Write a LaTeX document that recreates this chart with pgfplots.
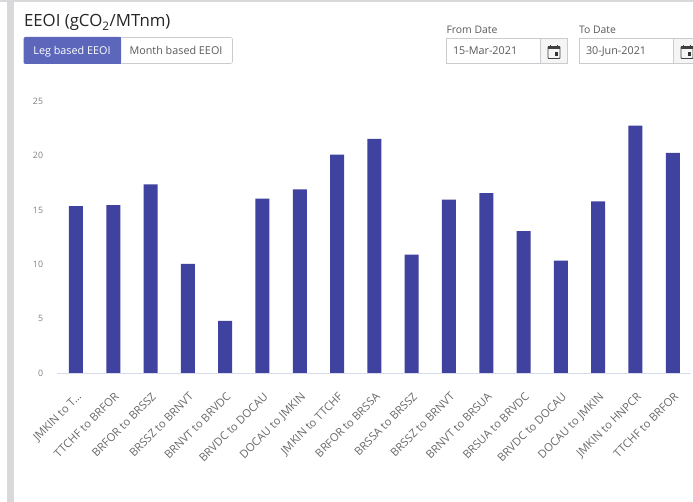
\documentclass[border=0pt]{standalone}
\usepackage{fontspec}
\setmainfont{Open Sans}
\usepackage{pgfplots}
\pgfplotsset{compat=1.18}
\usepackage{pgfplotstable}
\definecolor{barc}{HTML}{3F429E}
\definecolor{btn}{HTML}{5C67BB}
\definecolor{strip}{HTML}{D9D9DB}
\definecolor{axisl}{HTML}{D5DAEC}
\definecolor{tick}{HTML}{808080}
\definecolor{xlab}{HTML}{6A6A6A}
\definecolor{bord}{HTML}{C9CBCF}
\definecolor{txt}{HTML}{5A5A5A}
\pgfplotstableread{
idx val
0 15.35
1 15.45
2 17.35
3 10.05
4 4.8
5 16.05
6 16.9
7 20.1
8 21.55
9 10.9
10 15.95
11 16.55
12 13.05
13 10.35
14 15.8
15 22.75
16 20.25
}\eeoi
\begin{document}
\begin{tikzpicture}
\begin{scope}[x=0.75pt,y=-0.75pt,every node/.style={inner sep=0pt,outer sep=0pt}]
\useasboundingbox (0,0) rectangle (693,502);
\fill[white] (0,0) rectangle (693,502);
\fill[strip] (0,0) rectangle (693,2);
\fill[strip] (7,0) rectangle (14,502);
\fill[white] (14,2) rectangle (693,502);
% title
\node[anchor=base west,font=\fontsize{12.6pt}{14pt}\selectfont,text=black!85] at (24,27) {EEOI (gCO\textsubscript{2}/MTnm)};
% toggle
\filldraw[fill=white,draw=bord,rounded corners=1.5pt] (120,37.5) rectangle (232.5,63.5);
\fill[btn,rounded corners=1.5pt] (23.5,37) rectangle (121,64);
\fill[btn] (110,37) rectangle (120.5,64);
\node[anchor=base,font=\fontsize{8.1pt}{10pt}\selectfont,text=white] at (72,54.5) {Leg based EEOI};
\node[anchor=base,font=\fontsize{8.1pt}{10pt}\selectfont,text=txt] at (176,54.5) {Month based EEOI};
% date fields
\node[anchor=base west,font=\fontsize{7.8pt}{10pt}\selectfont,text=txt] at (446.5,34) {From Date};
\node[anchor=base west,font=\fontsize{7.8pt}{10pt}\selectfont,text=txt] at (579,34) {To Date};
\filldraw[fill=white,draw=bord] (446.5,38.5) rectangle (567.5,63.5);
\filldraw[fill=black!4,draw=bord] (540.5,38.5) rectangle (567.5,63.5);
\filldraw[fill=white,draw=bord] (579.5,38.5) rectangle (700,63.5);
\filldraw[fill=black!4,draw=bord] (673.5,38.5) rectangle (700,63.5);
\node[anchor=base west,font=\fontsize{8.1pt}{10pt}\selectfont,text=txt] at (453,55) {15-Mar-2021};
\node[anchor=base west,font=\fontsize{8.1pt}{10pt}\selectfont,text=txt] at (586,55) {30-Jun-2021};
\foreach \cx in {554,687}{
  \draw[black!75,line width=0.7pt,rounded corners=0.6pt] (\cx-6,46.5) rectangle (\cx+6,58.5);
  \fill[black!75] (\cx-6,46.5) rectangle (\cx+6,49.5);
  \fill[black!75] (\cx-4,45) rectangle (\cx-2.6,47.5);
  \fill[black!75] (\cx+2.6,45) rectangle (\cx+4,47.5);
  \fill[black!80] (\cx+0.5,52.5) rectangle (\cx+4,56.5);
}
\end{scope}
\begin{axis}[
  at={(42.975pt,-279.75pt)},anchor=south west,
  scale only axis,
  width=475.6pt,height=203.8pt,
  xmin=-0.5,xmax=16.5,ymin=0,ymax=25,
  axis line style={draw=none},
  axis x line*=bottom,
  axis y line*=left,
  xtick=data,
  xticklabels={JMKIN to T.{}.{}.,TTCHF to BRFOR,BRFOR to BRSSZ,BRSSZ to BRNVT,BRNVT to BRVDC,BRVDC to DOCAU,DOCAU to JMKIN,JMKIN to TTCHF,BRFOR to BRSSA,BRSSA to BRSSZ,BRSSZ to BRNVT,BRNVT to BRSUA,BRSUA to BRVDC,BRVDC to DOCAU,DOCAU to JMKIN,JMKIN to HNPCR,TTCHF to BRFOR},
  x tick label style={rotate=45,anchor=north east,font=\fontsize{8.4pt}{10pt}\selectfont,text=xlab,inner sep=0pt,xshift=-9.5pt,yshift=-10pt},
  ytick={0,5,10,15,20,25},
  y tick label style={font=\fontsize{6.6pt}{8pt}\selectfont,text=tick,inner sep=0pt,xshift=-10.5pt},
  /pgf/number format/assume math mode=true,
  major tick length=0pt,
  clip=false,
]
\addplot[ybar,bar width=10.5pt,fill=barc,draw=none] table[x=idx,y=val]{\eeoi};
\draw[axisl,line width=0.75pt] (axis cs:-0.5,0) -- (axis cs:16.5,0);
\end{axis}
\end{tikzpicture}
\end{document}
